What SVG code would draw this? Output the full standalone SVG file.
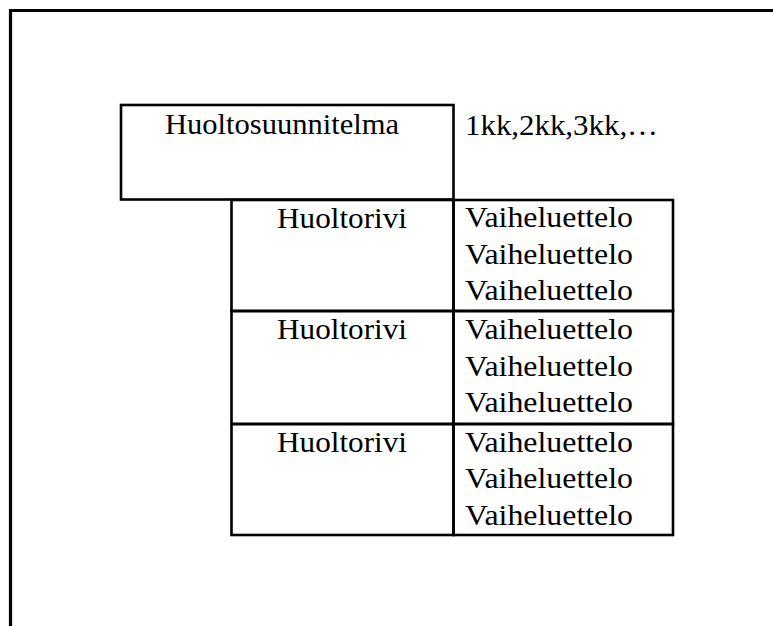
<svg xmlns="http://www.w3.org/2000/svg" width="773" height="626" viewBox="0 0 773 626">
<style>
.t{font-family:"Liberation Serif","Times New Roman",serif;font-size:28.5px;fill:#000}
.b{fill:none;stroke:#000;stroke-width:2.6}
.f{fill:none;stroke:#000;stroke-width:3.2}
</style>
<rect width="773" height="626" fill="#fff"/>
<g id="frame">
<path class="f" d="M10.5,626 V10.5 H773"/>
</g>
<g id="plan">
<rect class="b" x="121" y="105" width="332.5" height="94.5"/>
<text class="t" x="165" y="134" textLength="234" lengthAdjust="spacingAndGlyphs">Huoltosuunnitelma</text>
</g>
<g id="intervals">
<text class="t" x="465" y="135" textLength="193" lengthAdjust="spacingAndGlyphs">1kk,2kk,3kk,…</text>
</g>
<g id="row1">
<rect class="b" x="231.5" y="200" width="222" height="111"/>
<text class="t" x="277" y="228" textLength="130" lengthAdjust="spacingAndGlyphs">Huoltorivi</text>
</g>
<g id="steps1">
<rect class="b" x="453.5" y="200" width="219.5" height="111"/>
<text class="t" x="465" y="227" textLength="168" lengthAdjust="spacingAndGlyphs">Vaiheluettelo</text>
<text class="t" x="465" y="264" textLength="168" lengthAdjust="spacingAndGlyphs">Vaiheluettelo</text>
<text class="t" x="465" y="300" textLength="168" lengthAdjust="spacingAndGlyphs">Vaiheluettelo</text>
</g>
<g id="row2">
<rect class="b" x="231.5" y="311" width="222" height="113"/>
<text class="t" x="277" y="339" textLength="130" lengthAdjust="spacingAndGlyphs">Huoltorivi</text>
</g>
<g id="steps2">
<rect class="b" x="453.5" y="311" width="219.5" height="113"/>
<text class="t" x="465" y="339" textLength="168" lengthAdjust="spacingAndGlyphs">Vaiheluettelo</text>
<text class="t" x="465" y="376" textLength="168" lengthAdjust="spacingAndGlyphs">Vaiheluettelo</text>
<text class="t" x="465" y="412" textLength="168" lengthAdjust="spacingAndGlyphs">Vaiheluettelo</text>
</g>
<g id="row3">
<rect class="b" x="231.5" y="424" width="222" height="111"/>
<text class="t" x="277" y="452" textLength="130" lengthAdjust="spacingAndGlyphs">Huoltorivi</text>
</g>
<g id="steps3">
<rect class="b" x="453.5" y="424" width="219.5" height="111"/>
<text class="t" x="465" y="452" textLength="168" lengthAdjust="spacingAndGlyphs">Vaiheluettelo</text>
<text class="t" x="465" y="488" textLength="168" lengthAdjust="spacingAndGlyphs">Vaiheluettelo</text>
<text class="t" x="465" y="525" textLength="168" lengthAdjust="spacingAndGlyphs">Vaiheluettelo</text>
</g>
<g id="connectors"></g>
</svg>
